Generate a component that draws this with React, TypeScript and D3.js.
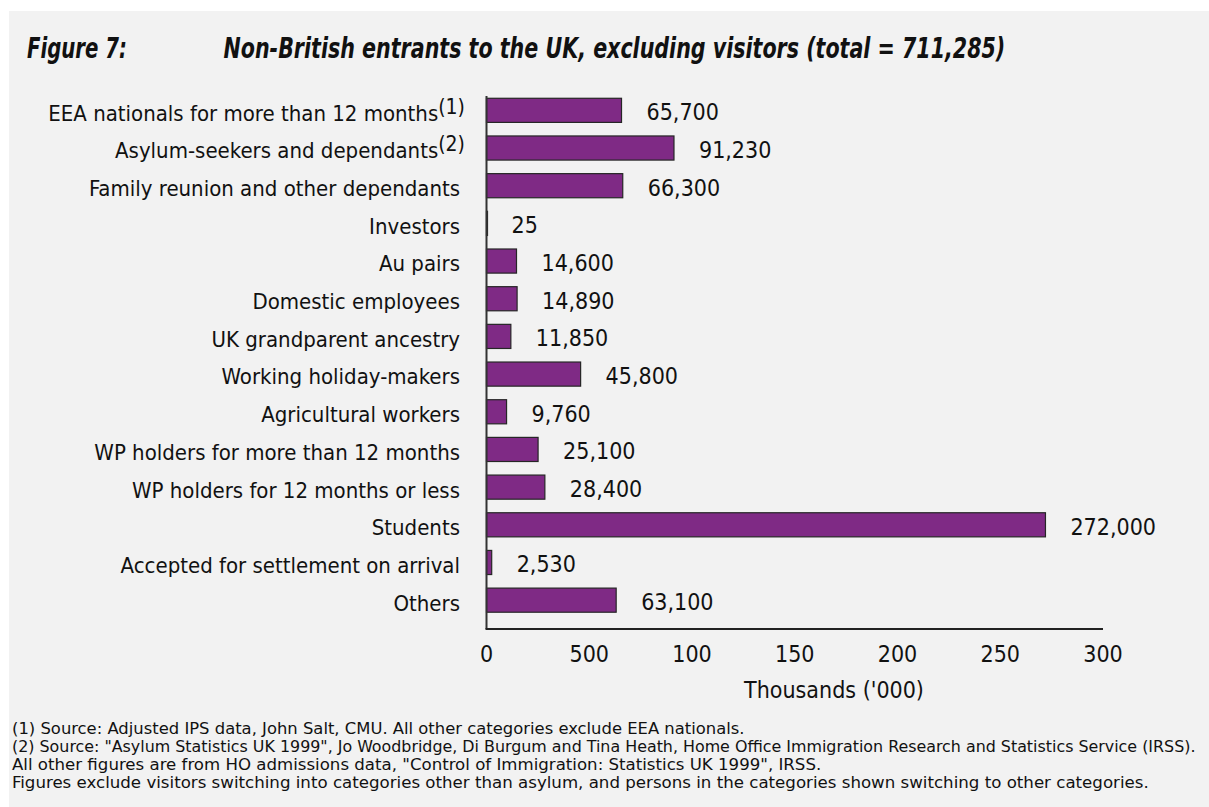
import React, { useLayoutEffect, useRef, useState } from "react";
import * as d3 from "d3";

const categories = [
  "EEA nationals for more than 12 months",
  "Asylum-seekers and dependants",
  "Family reunion and other dependants",
  "Investors",
  "Au pairs",
  "Domestic employees",
  "UK grandparent ancestry",
  "Working holiday-makers",
  "Agricultural workers",
  "WP holders for more than 12 months",
  "WP holders for 12 months or less",
  "Students",
  "Accepted for settlement on arrival",
  "Others",
];
const noteMarks = ["(1)", "(2)", "", "", "", "", "", "", "", "", "", "", "", ""];
const values = [65700, 91230, 66300, 25, 14600, 14890, 11850, 45800, 9760, 25100, 28400, 272000, 2530, 63100];
const tickValues = [0, 50, 100, 150, 200, 250, 300];
const tickLabels = ["0", "500", "100", "150", "200", "250", "300"];
const titleLabel = "Figure 7:";
const titleText = "Non-British entrants to the UK, excluding visitors (total = 711,285)";
const axisTitle = "Thousands ('000)";
const footnotes = [
  "(1) Source: Adjusted IPS data, John Salt, CMU. All other categories exclude EEA nationals.",
  "(2) Source: \"Asylum Statistics UK 1999\", Jo Woodbridge, Di Burgum and Tina Heath, Home Office Immigration Research and Statistics Service (IRSS).",
  "All other figures are from HO admissions data, \"Control of Immigration: Statistics UK 1999\", IRSS.",
  "Figures exclude visitors switching into categories other than asylum, and persons in the categories shown switching to other categories.",
];
const footnoteWidths = [733, 1184, 810, 1138];

const W = 1209;
const H = 807;
const FONT = "'DejaVu Sans Condensed', 'DejaVu Sans', sans-serif";
const TITLE_FONT = "'Liberation Sans Narrow', 'DejaVu Sans Condensed', sans-serif";

function FitText(props: {
  x: number;
  y: number;
  width: number;
  children: React.ReactNode;
  [k: string]: any;
}) {
  const { x, y, width, children, ...rest } = props;
  const ref = useRef<SVGTextElement>(null);
  const [s, setS] = useState(1);
  useLayoutEffect(() => {
    if (ref.current) {
      const len = ref.current.getComputedTextLength();
      if (len > 0) setS(width / len);
    }
  }, [width, children]);
  return (
    <text ref={ref} transform={`translate(${x},${y}) scale(${s},1)`} {...rest}>
      {children}
    </text>
  );
}

export default function App() {
  const x = d3.scaleLinear().domain([0, 300]).range([486.5, 1103]);
  const y = d3
    .scaleBand<string>()
    .domain(categories)
    .range([91.5, 619])
    .paddingInner(0.36)
    .paddingOuter(0.18);
  const fmt = d3.format(",");
  const axisY = 629;

  return (
    <svg
      width={W}
      height={H}
      style={{ position: "absolute", left: 0, top: 0, display: "block" }}
      xmlns="http://www.w3.org/2000/svg"
    >
      <rect x={0} y={0} width={W} height={H} fill="#ffffff" />
      <rect x={9} y={11} width={W - 9} height={H - 11} fill="#f2f2f2" />

      <g fontFamily={TITLE_FONT} fontWeight="bold" fontStyle="italic" fontSize={29} fill="#111">
        <FitText x={27} y={58} width={100}>
          {titleLabel}
        </FitText>
        <FitText x={223.5} y={58} width={782}>
          {titleText}
        </FitText>
      </g>

      {categories.map((c, i) => {
        const cy = (y(c) as number) + y.bandwidth() / 2;
        const v = values[i] / 1000;
        const x1 = x(v);
        return (
          <g key={c}>
            <rect
              x={x(0)}
              y={y(c)}
              width={Math.max(x1 - x(0), 1)}
              height={y.bandwidth()}
              fill="#7f2a85"
              stroke="#262626"
              strokeWidth={1.2}
            />
            <text x={x1 + 25} y={cy + 10} fontFamily={FONT} fontSize={23} fill="#111">
              {fmt(values[i])}
            </text>
            <text
              x={noteMarks[i] ? 465 : 460}
              y={cy + 10.4}
              textAnchor="end"
              fontFamily={FONT}
              fontSize={22}
              fill="#111"
            >
              {c}
              {noteMarks[i] ? (
                <tspan fontSize={21} dy={-7}>
                  {noteMarks[i]}
                </tspan>
              ) : null}
            </text>
          </g>
        );
      })}

      <line x1={x(0)} x2={x(0)} y1={96} y2={axisY} stroke="#333" strokeWidth={2} />
      <line x1={x(0) - 1} x2={x(300)} y1={axisY} y2={axisY} stroke="#222" strokeWidth={1.8} />

      {tickValues.map((t, i) => (
        <text
          key={t}
          x={x(t)}
          y={661.5}
          textAnchor="middle"
          fontFamily={FONT}
          fontSize={23}
          fill="#111"
        >
          {tickLabels[i]}
        </text>
      ))}
      <text x={834} y={698} textAnchor="middle" fontFamily={FONT} fontSize={23} fill="#111">
        {axisTitle}
      </text>

      {footnotes.map((f, i) => (
        <FitText
          key={i}
          x={12}
          y={733.5 + i * 18}
          width={footnoteWidths[i]}
          fontFamily={FONT}
          fontSize={15}
          fill="#111"
        >
          {f}
        </FitText>
      ))}
    </svg>
  );
}
